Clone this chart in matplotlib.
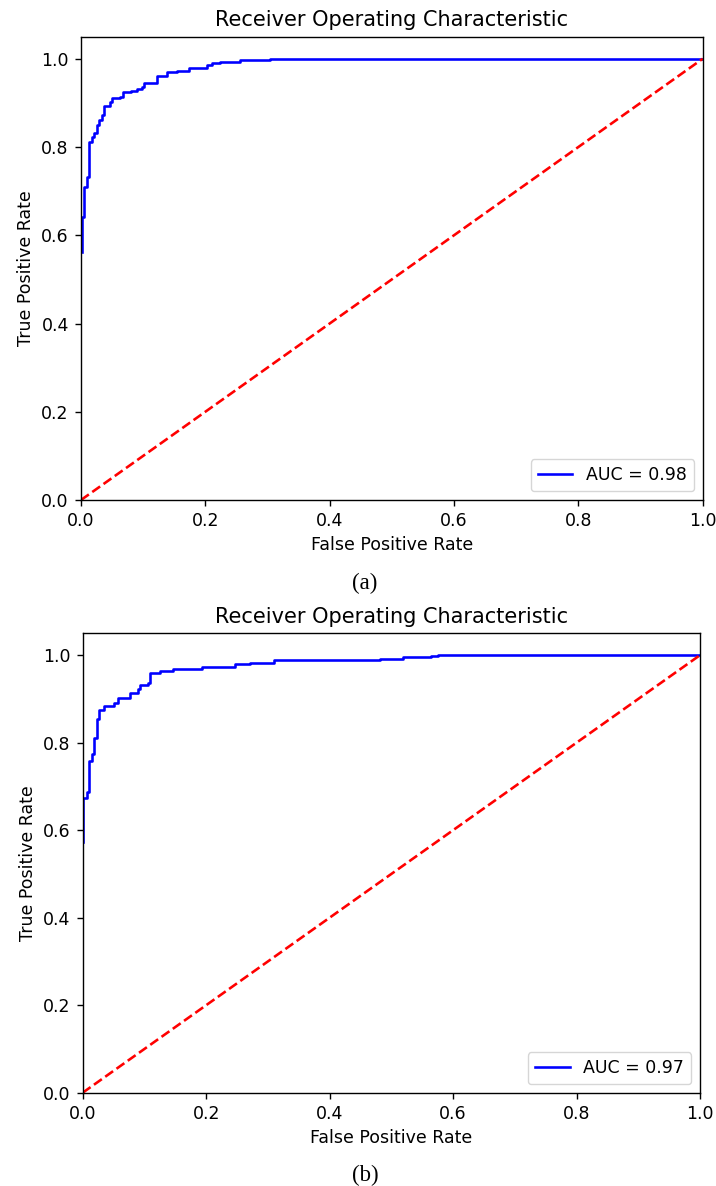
import numpy as np
import matplotlib
matplotlib.use("Agg")
import matplotlib.pyplot as plt

W, H = 716, 1186
DPI = 100

# ROC (a): stair corners, rise at fpr to tpr
fpr_a = [0.001, 0.001, 0.0054, 0.0091, 0.0129, 0.0172, 0.0209, 0.0252, 0.0289,
         0.0332, 0.0375, 0.0466, 0.0504, 0.0627, 0.068, 0.0804, 0.0895, 0.0975,
         0.101, 0.1217, 0.1377, 0.1538, 0.1736, 0.202, 0.21, 0.2235, 0.2556,
         0.3039, 1.0]
tpr_a = [0.562, 0.642, 0.710, 0.733, 0.812, 0.822, 0.831, 0.850, 0.861,
         0.873, 0.894, 0.903, 0.911, 0.914, 0.924, 0.928, 0.931, 0.935,
         0.944, 0.960, 0.970, 0.973, 0.979, 0.986, 0.990, 0.993, 0.997,
         1.0, 1.0]
auc_a = 0.98

# ROC (b)
fpr_b = [0.001, 0.001, 0.0064, 0.0102, 0.0145, 0.0183, 0.0226, 0.0269, 0.0345,
         0.0512, 0.0566, 0.0641, 0.0771, 0.090, 0.0933, 0.105, 0.109, 0.126,
         0.146, 0.1925, 0.246, 0.271, 0.31, 0.481, 0.519, 0.565, 0.575, 1.0]
tpr_b = [0.572, 0.674, 0.687, 0.759, 0.773, 0.811, 0.855, 0.875, 0.883,
         0.891, 0.901, 0.903, 0.914, 0.923, 0.931, 0.937, 0.960, 0.963,
         0.968, 0.973, 0.979, 0.983, 0.988, 0.992, 0.995, 0.998, 1.0, 1.0]
auc_b = 0.97

captions = ["(a)", "(b)"]
S = 1.25  # original figures were scaled up

plt.rcParams['font.family'] = ['DejaVu Sans']
plt.rcParams['axes.linewidth'] = 0.8 * S
plt.rcParams['xtick.major.width'] = 0.8 * S
plt.rcParams['ytick.major.width'] = 0.8 * S
plt.rcParams['xtick.major.size'] = 3.5 * S
plt.rcParams['ytick.major.size'] = 3.5 * S

fig = plt.figure(figsize=(W / DPI, H / DPI), dpi=DPI)


def px_axes(left, top, right, bottom):
    return fig.add_axes([left / W, 1 - bottom / H, (right - left) / W, (bottom - top) / H])


def roc_panel(ax, fpr, tpr, auc):
    ax.plot(fpr, tpr, 'b', drawstyle='steps-post', lw=1.5 * S, label='AUC = %0.2f' % auc)
    ax.plot([0, 1], [0, 1], 'r--', lw=1.5 * S)
    ax.set_xlim(0, 1)
    ax.set_ylim(0, 1.05)
    ax.set_title('Receiver Operating Characteristic', fontsize=12 * S, pad=6 * S)
    ax.set_xlabel('False Positive Rate', fontsize=10 * S, labelpad=3.5 * S)
    ax.set_ylabel('True Positive Rate', fontsize=10 * S, labelpad=3.5 * S)
    ax.tick_params(labelsize=10 * S, pad=3.5 * S)
    ax.legend(loc='lower right', fontsize=10 * S)


ax1 = px_axes(81, 36.7, 702.7, 500)
roc_panel(ax1, fpr_a, tpr_a, auc_a)
ax2 = px_axes(82.7, 633.3, 700, 1092.7)
roc_panel(ax2, fpr_b, tpr_b, auc_b)

fig.text(365 / W, 1 - 583 / H, captions[0], ha='center', va='center',
         fontsize=16.5, family=['Liberation Serif'])
fig.text(365 / W, 1 - 1175 / H, captions[1], ha='center', va='center',
         fontsize=16.5, family=['Liberation Serif'])

fig.savefig('out.png', dpi=DPI)
